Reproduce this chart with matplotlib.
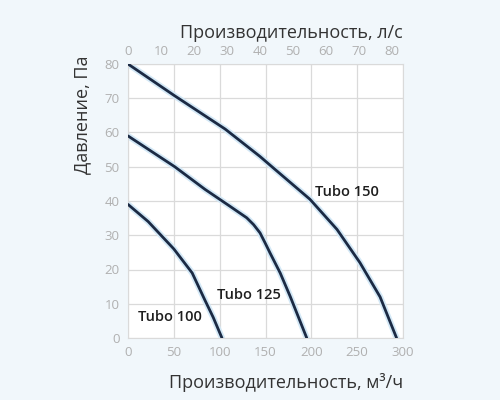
import matplotlib
matplotlib.use("Agg")
import matplotlib.pyplot as plt

plt.rcParams['font.family'] = ['Open Sans', 'DejaVu Sans']

# Data (flow m3/h, pressure Pa)
t100_q = [0, 22, 50, 70, 84, 93, 102.5]
t100_p = [39, 34, 26, 19, 11, 6, 0]
t125_q = [0, 51, 84, 111, 129.5, 137, 144, 149.5, 155, 166, 177, 195]
t125_p = [59, 50, 43.4, 38.5, 35.1, 33.1, 30.7, 27.8, 24.8, 19, 12.1, 0]
t150_q = [0, 51, 106, 144, 157, 198.5, 228, 253, 275, 293]
t150_p = [80, 70.7, 61, 53, 50, 40.5, 31.7, 22, 12, 0]

x_ticks = [0, 50, 100, 150, 200, 250, 300]
y_ticks = [0, 10, 20, 30, 40, 50, 60, 70, 80]
top_ticks = [0, 10, 20, 30, 40, 50, 60, 70, 80]
labels = ["Tubo 100", "Tubo 125", "Tubo 150"]

fig = plt.figure(figsize=(5, 4), dpi=100, facecolor='#f1f7fb')
ax = fig.add_axes([0.256, 0.155, 0.55, 0.685])
ax.set_facecolor('white')

for q, p in [(t100_q, t100_p), (t125_q, t125_p), (t150_q, t150_p)]:
    ax.plot(q, p, color='#d3e8f6', lw=4.5, solid_capstyle='round',
            solid_joinstyle='round', zorder=2)
    ax.plot(q, p, color='#1b2a44', lw=2.0, solid_capstyle='round',
            solid_joinstyle='round', zorder=3)

ax.set_xlim(0, 300)
ax.set_ylim(0, 80)
ax.set_xticks(x_ticks)
ax.set_yticks(y_ticks)
ax.grid(True, color='#dadada', lw=0.9)
ax.set_axisbelow(True)
for s in ax.spines.values():
    s.set_color('#dadada')
ax.tick_params(length=0, labelsize=9.5, labelcolor='#b0b0b0', pad=6)

sec = ax.secondary_xaxis('top', functions=(lambda x: x / 3.6, lambda x: x * 3.6))
sec.set_xticks(top_ticks)
sec.tick_params(length=0, labelsize=9.5, labelcolor='#b0b0b0', pad=4)
sec.spines['top'].set_visible(False)

tkw = dict(fontsize=10.5, color='#1e1e1e', va='center', ha='left', fontweight='semibold')
ax.text(11, 6, labels[0], **tkw)
ax.text(97, 12.6, labels[1], **tkw)
ax.text(204, 42.5, labels[2], **tkw)

fig.text(0.806, 0.918, 'Производительность, л/с', fontsize=13, color='#333333', ha='right', va='center')
fig.text(0.806, 0.043, 'Производительность, м³/ч', fontsize=13, color='#333333', ha='right', va='center')
fig.text(0.164, 0.7125, 'Давление, Па', fontsize=13, color='#333333', ha='center', va='center', rotation=90)

fig.savefig('out.png', dpi=100, facecolor=fig.get_facecolor())
